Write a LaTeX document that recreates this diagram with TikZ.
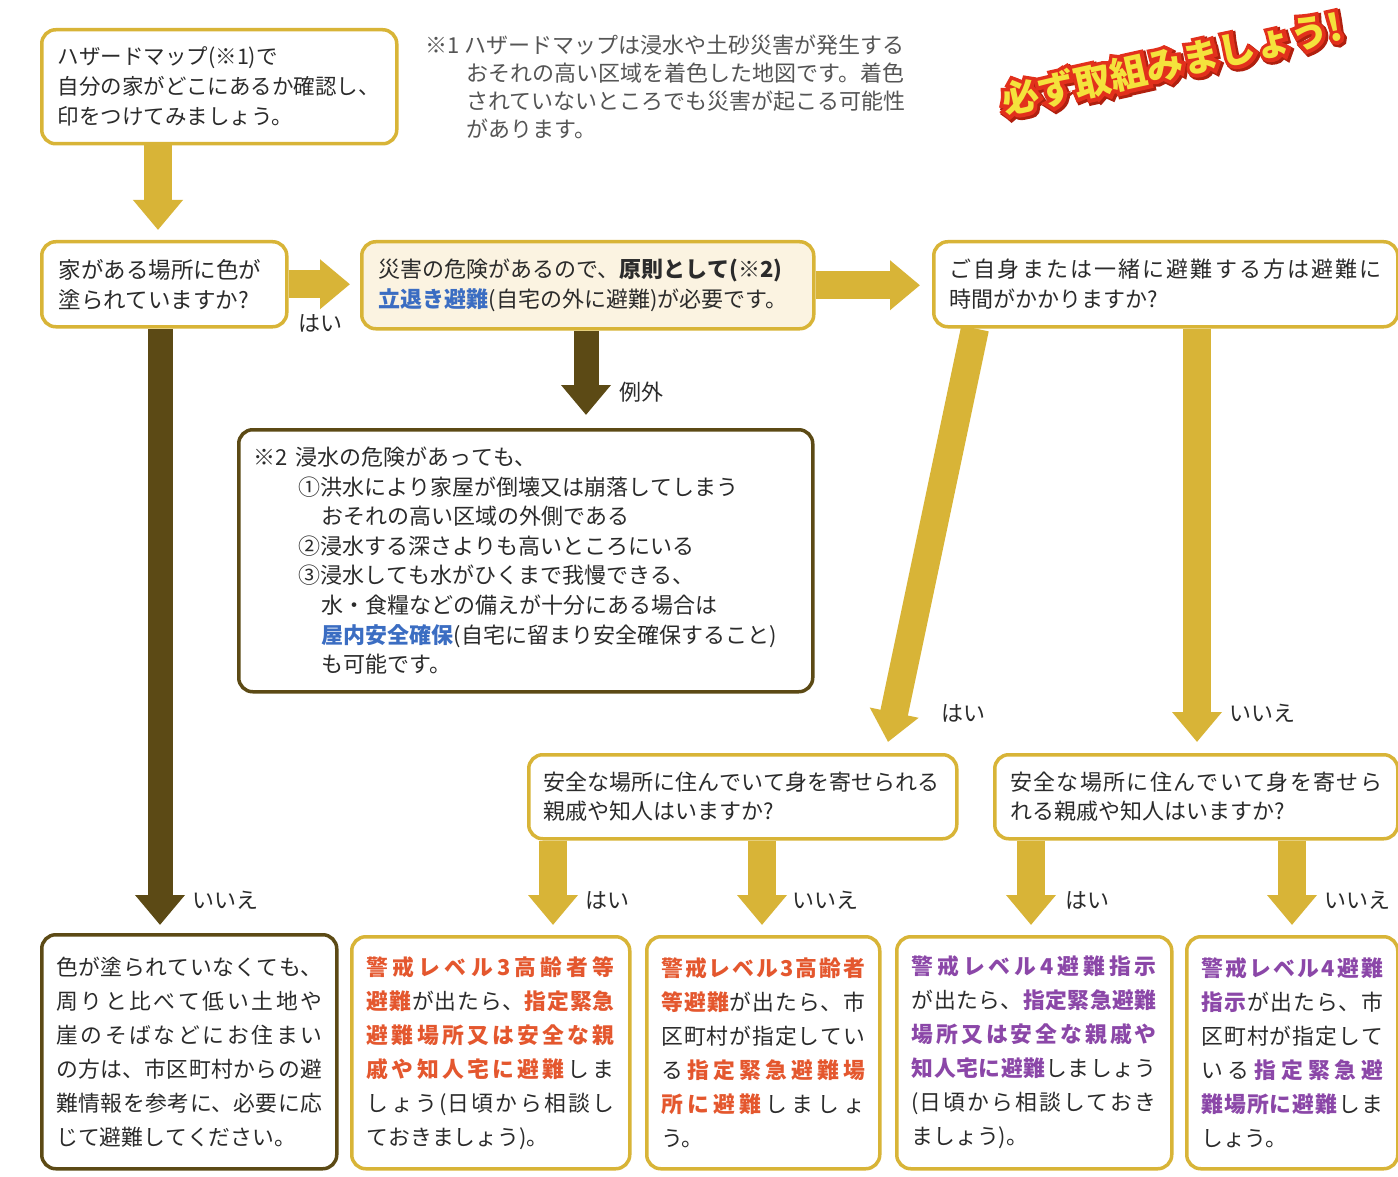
\documentclass[tikz,border=0pt]{standalone}
\usepackage{fontspec}
\setmainfont{Noto Sans CJK JP}
\newfontfamily\stampR{Noto Sans CJK JP}[BoldFeatures={FakeBold=20}]
\newfontfamily\stampS{Noto Sans CJK JP}[BoldFeatures={FakeBold=24}]
\usetikzlibrary{arrows.meta,calc}
\setlength{\parindent}{0pt}
\definecolor{gold}{HTML}{D8B437}
\definecolor{dbrown}{HTML}{5C4A15}
\definecolor{cream}{HTML}{FBF3E1}
\definecolor{txt}{HTML}{2B2B2B}
\definecolor{notegray}{HTML}{555555}
\definecolor{orng}{HTML}{E4572E}
\definecolor{purp}{HTML}{8B47A8}
\definecolor{blu}{HTML}{3B6DC2}
\definecolor{stred}{HTML}{E2301C}
\definecolor{styel}{HTML}{F4E23C}
\definecolor{stshadow}{HTML}{B0200F}
\newcommand\jus{\XeTeXlinebreaklocale "ja"\XeTeXlinebreakskip=0pt plus 8pt\relax}
\newcommand\sg{\hskip0pt plus 8pt\relax}
\newcommand\org[1]{{\bfseries\color{orng}#1}\hskip0pt plus 8pt\relax}
\newcommand\prp[1]{{\bfseries\color{purp}#1}\hskip0pt plus 8pt\relax}
\newcommand\blutxt[1]{{\bfseries\color{blu}#1}}
\newcommand\stamptext{必ず取組みましょう!}
\pgfdeclarelayer{bottom}
\pgfdeclarelayer{background}
\pgfsetlayers{bottom,background,main}
\tikzset{
  box/.style={draw=gold, line width=3.5pt, rounded corners=14pt, fill=white, anchor=north west, text=txt, inner ysep=4pt},
  dbox/.style={box, draw=dbrown},
  garrow/.style={draw=gold, line width=28pt, -{Triangle[width=48pt,length=30pt]}},
  darrow/.style={draw=dbrown, line width=25pt, -{Triangle[width=48pt,length=30pt]}},
  lbl/.style={text=txt, inner sep=0pt, font=\fontsize{22pt}{26pt}\selectfont},
  bottomtxt/.style={align=justify, font={\jus\fontsize{21.8pt}{34pt}\selectfont}},
}
\begin{document}
\begin{tikzpicture}[x=1pt,y=-1pt]
\useasboundingbox (0,0) rectangle (1398,1177);
\begin{pgfonlayer}{bottom}
\fill[white] (0,0) rectangle (1398,1177);
\end{pgfonlayer}

% top boxes
\node[box, minimum width=355pt, minimum height=114pt, text width=323pt, inner xsep=16pt, align=left, font=\fontsize{21.5pt}{30pt}\selectfont] (A) at (40,28) {ハザードマップ(※1)で\\自分の家がどこにあるか確認し、\\印をつけてみましょう。};

\node[anchor=north west, inner sep=0pt, text=notegray, align=left, font=\fontsize{22pt}{28pt}\selectfont] (note) at (425,35) {※1 ハザードマップは浸水や土砂災害が発生する\\\hspace*{41pt}おそれの高い区域を着色した地図です。着色\\\hspace*{41pt}されていないところでも災害が起こる可能性\\\hspace*{41pt}があります。};

\node[inner sep=0pt, rotate=12.5, font=\fontsize{37pt}{40pt}\selectfont] (stamp) at (1172,64) {%
\makebox[0pt][l]{\hspace*{1.5pt}\raisebox{-2.2pt}{\stampS\bfseries\textcolor{stshadow}{\stamptext}}}%
\makebox[0pt][l]{\stampR\bfseries\textcolor{stred}{\stamptext}}%
{\bfseries\textcolor{styel}{\stamptext}}};

\node[box, minimum width=245pt, minimum height=85pt, text width=211pt, inner xsep=17pt, align=left, font=\fontsize{22.5pt}{30pt}\selectfont] (B) at (40,240) {家がある場所に色が\\塗られていますか?};

\node[box, fill=cream, minimum width=452pt, minimum height=87pt, text width=418pt, inner xsep=17pt, align=left, font=\fontsize{22pt}{30pt}\selectfont] (C) at (360,240) {災害の危険があるので、{\bfseries 原則として(※2)}\\\blutxt{立退き避難}(自宅の外に避難)が必要です。};

\node[box, minimum width=464pt, minimum height=85pt, text width=432pt, inner xsep=16pt, align=justify, font={\jus\fontsize{22pt}{30pt}\selectfont}] (D) at (932,240) {ご自身または一緒に避難する方は避難に\linebreak 時間がかかりますか?};

\node[dbox, minimum width=574pt, minimum height=262pt, text width=544pt, inner xsep=15pt, align=left, font=\fontsize{22pt}{29.6pt}\selectfont] (E) at (237,428) {※2 浸水の危険があっても、\\\hspace*{45pt}①洪水により家屋が倒壊又は崩落してしまう\\\hspace*{68pt}おそれの高い区域の外側である\\\hspace*{45pt}②浸水する深さよりも高いところにいる\\\hspace*{45pt}③浸水しても水がひくまで我慢できる、\\\hspace*{68pt}水・食糧などの備えが十分にある場合は\\\hspace*{68pt}\blutxt{屋内安全確保}(自宅に留まり安全確保すること)\\\hspace*{68pt}も可能です。};

\node[box, minimum width=428pt, minimum height=84pt, text width=398pt, inner xsep=15pt, align=left, font=\fontsize{22pt}{29pt}\selectfont] (G) at (527,753) {安全な場所に住んでいて身を寄せられる\\親戚や知人はいますか?};

\node[box, minimum width=403pt, minimum height=84pt, text width=372pt, inner xsep=15.5pt, align=justify, font={\jus\fontsize{22pt}{29pt}\selectfont}] (H) at (993,753) {安全な場所に住んでいて身を寄せら\linebreak れる親戚や知人はいますか?};

% bottom boxes
\node[dbox, bottomtxt, minimum width=295pt, minimum height=234pt, text width=266pt, inner xsep=14.5pt] (F) at (40,933) {色が塗られていなくても、\linebreak 周りと比べて低い土地や\linebreak 崖のそばなどにお住まい\linebreak の方は、市区町村からの避\linebreak 難情報を参考に、必要に応\linebreak じて避難してください。};

\node[box, bottomtxt, minimum width=278pt, minimum height=232pt, text width=248pt, inner xsep=15pt] (I) at (350,935) {\org{警戒レベル3高齢者等}\linebreak\org{避難}が出たら、\sg\org{指定緊急}\linebreak\org{避難場所又は安全な親}\linebreak\org{戚や知人宅に避難}しま\linebreak しょう(日頃から相談し\linebreak ておきましょう)。};

\node[box, bottomtxt, minimum width=233pt, minimum height=232pt, text width=204pt, inner xsep=14.5pt] (J) at (645,935) {\org{警戒レベル3高齢者}\linebreak\org{等避難}が出たら、市\linebreak 区町村が指定してい\linebreak る\sg\org{指定緊急避難場}\linebreak\org{所に避難}しましょ\linebreak う。};

\node[box, bottomtxt, minimum width=275pt, minimum height=232pt, text width=245pt, inner xsep=15pt] (K) at (895,935) {\prp{警戒レベル4避難指示}\linebreak が出たら、\sg\prp{指定緊急避難}\linebreak\prp{場所又は安全な親戚や}\linebreak\prp{知人宅に避難}しましょう\linebreak(日頃から相談しておき\linebreak ましょう)。};

\node[box, bottomtxt, minimum width=211pt, minimum height=232pt, text width=182pt, inner xsep=14.5pt] (L) at (1185,935) {\prp{警戒レベル4避難}\linebreak\prp{指示}が出たら、市\linebreak 区町村が指定して\linebreak いる\sg\prp{指定緊急避}\linebreak\prp{難場所に避難}しま\linebreak しょう。};

% labels
\node[lbl] (l1) at (320,323) {はい};
\node[lbl] (l2) at (225,900) {いいえ};
\node[lbl] (l3) at (641,392) {例外};
\node[lbl] (l4) at (963,713) {はい};
\node[lbl] (l5) at (1262,713) {いいえ};
\node[lbl] (l6) at (607,900) {はい};
\node[lbl] (l7) at (825,900) {いいえ};
\node[lbl] (l8) at (1087,900) {はい};
\node[lbl] (l9) at (1357,900) {いいえ};

% connectors
\coordinate (xa) at (158,0);
\coordinate (xb) at (160,0);
\coordinate (xc) at (586,0);
\coordinate (xd1) at (975,0);
\coordinate (xd2) at (888,0);
\coordinate (xe) at (1197,0);
\coordinate (xg1) at (553,0);
\coordinate (xg2) at (762,0);
\coordinate (xh1) at (1031,0);
\coordinate (xh2) at (1292,0);
\begin{pgfonlayer}{background}
\draw[garrow] (A.south -| xa) -- ($(B.north -| xa)+(0,-10)$);
\draw[garrow] (B.east) -- ($(B.east -| C.west)+(-10,0)$);
\draw[garrow] (C.east) -- ($(C.east -| D.west)+(-12,0)$);
\draw[darrow] (C.south -| xc) -- ($(E.north -| xc)+(0,-13)$);
\draw[darrow] (B.south -| xb) -- ($(F.north -| xb)+(0,-8)$);
\draw[garrow] (D.south -| xd1) -- ($(G.north -| xd2)+(0,-11)$);
\draw[garrow] (D.south -| xe) -- ($(H.north -| xe)+(0,-11)$);
\draw[garrow] (G.south -| xg1) -- ($(I.north -| xg1)+(0,-10)$);
\draw[garrow] (G.south -| xg2) -- ($(J.north -| xg2)+(0,-10)$);
\draw[garrow] (H.south -| xh1) -- ($(K.north -| xh1)+(0,-10)$);
\draw[garrow] (H.south -| xh2) -- ($(L.north -| xh2)+(0,-10)$);
\end{pgfonlayer}
\end{tikzpicture}
\end{document}
